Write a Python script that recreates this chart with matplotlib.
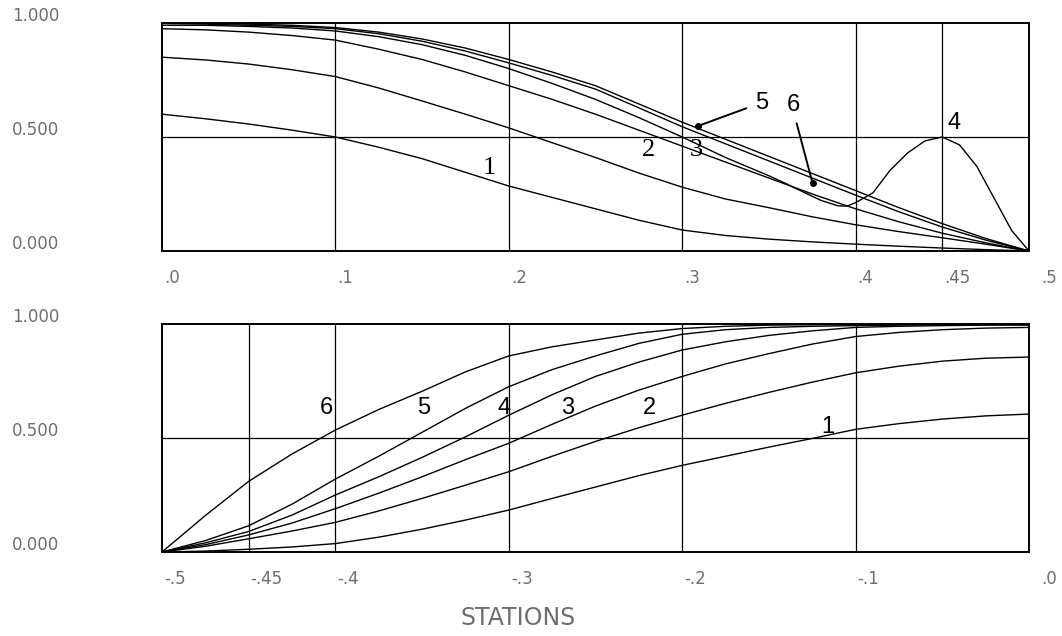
import matplotlib
matplotlib.use("Agg")
import matplotlib.pyplot as plt

# stations (top panel: right half, bottom panel: left half)
x_top = [0.0, 0.025, 0.05, 0.075, 0.10, 0.125, 0.15, 0.175, 0.20, 0.225, 0.25,
         0.275, 0.30, 0.325, 0.35, 0.375, 0.40, 0.425, 0.45, 0.475, 0.50]
x_bot = [-0.50, -0.475, -0.45, -0.425, -0.40, -0.375, -0.35, -0.325, -0.30, -0.275, -0.25,
         -0.225, -0.20, -0.175, -0.15, -0.125, -0.10, -0.075, -0.05, -0.025, 0.0]

# top panel curves, named by their level at x=.2 (lowest first)
top_1 = [0.600, 0.580, 0.557, 0.530, 0.500, 0.455, 0.405, 0.345, 0.285, 0.235, 0.185,
         0.135, 0.092, 0.068, 0.052, 0.040, 0.030, 0.021, 0.013, 0.006, 0.0]
top_2 = [0.850, 0.838, 0.820, 0.795, 0.765, 0.715, 0.658, 0.600, 0.540, 0.475, 0.410,
         0.342, 0.280, 0.228, 0.190, 0.150, 0.115, 0.085, 0.058, 0.030, 0.0]
top_3 = [0.975, 0.970, 0.960, 0.945, 0.925, 0.885, 0.840, 0.785, 0.725, 0.665, 0.600,
         0.530, 0.460, 0.390, 0.320, 0.250, 0.185, 0.128, 0.078, 0.036, 0.0]
top_5 = [0.998, 0.995, 0.990, 0.985, 0.975, 0.953, 0.920, 0.877, 0.825, 0.770, 0.710,
         0.628, 0.545, 0.470, 0.395, 0.320, 0.245, 0.172, 0.105, 0.048, 0.0]
top_6 = [1.000, 0.999, 0.995, 0.990, 0.980, 0.960, 0.930, 0.890, 0.840, 0.785, 0.725,
         0.645, 0.565, 0.490, 0.415, 0.340, 0.265, 0.190, 0.120, 0.055, 0.0]
# curve with the bump near .45
x_top_4 = [0.0, 0.025, 0.05, 0.075, 0.10, 0.125, 0.15, 0.175, 0.20, 0.225, 0.25,
           0.275, 0.30, 0.325, 0.35, 0.36, 0.37, 0.38, 0.39, 0.395, 0.40, 0.41,
           0.42, 0.43, 0.44, 0.45, 0.46, 0.47, 0.48, 0.49, 0.50]
top_4 = [0.990, 0.990, 0.985, 0.978, 0.965, 0.940, 0.905, 0.858, 0.800, 0.735, 0.665,
         0.585, 0.500, 0.410, 0.330, 0.295, 0.258, 0.222, 0.198, 0.197, 0.212, 0.255,
         0.355, 0.430, 0.483, 0.500, 0.465, 0.370, 0.230, 0.090, 0.0]

# bottom panel curves
bot_1 = [0.0, 0.004, 0.012, 0.022, 0.037, 0.065, 0.100, 0.140, 0.184, 0.235, 0.285,
         0.335, 0.380, 0.420, 0.460, 0.498, 0.538, 0.563, 0.583, 0.597, 0.605]
bot_2 = [0.0, 0.025, 0.058, 0.092, 0.130, 0.180, 0.235, 0.293, 0.352, 0.420, 0.485,
         0.545, 0.600, 0.652, 0.700, 0.745, 0.786, 0.815, 0.837, 0.850, 0.855]
bot_3 = [0.0, 0.032, 0.075, 0.127, 0.190, 0.258, 0.330, 0.405, 0.477, 0.560, 0.640,
         0.710, 0.770, 0.825, 0.870, 0.912, 0.945, 0.963, 0.975, 0.982, 0.985]
bot_4 = [0.0, 0.040, 0.090, 0.162, 0.250, 0.330, 0.415, 0.505, 0.600, 0.690, 0.770,
         0.833, 0.886, 0.922, 0.950, 0.970, 0.985, 0.990, 0.993, 0.995, 0.995]
bot_5 = [0.0, 0.050, 0.115, 0.210, 0.320, 0.420, 0.525, 0.630, 0.725, 0.800, 0.860,
         0.915, 0.955, 0.975, 0.985, 0.990, 0.993, 0.995, 0.997, 0.998, 0.998]
bot_6 = [0.0, 0.160, 0.310, 0.430, 0.535, 0.625, 0.705, 0.790, 0.860, 0.900, 0.930,
         0.960, 0.980, 0.990, 0.995, 0.997, 0.998, 0.999, 1.000, 1.000, 1.000]

top_ticks = [0.0, 0.1, 0.2, 0.3, 0.4, 0.45, 0.5]
top_ticklabels = ['.0', '.1', '.2', '.3', '.4', '.45', '.5']
bot_ticks = [-0.5, -0.45, -0.4, -0.3, -0.2, -0.1, 0.0]
bot_ticklabels = ['-.5', '-.45', '-.4', '-.3', '-.2', '-.1', '.0']
y_ticks = [0.0, 0.5, 1.0]
y_ticklabels = ['0.000', '0.500', '1.000']

W, H = 1062, 636
fig = plt.figure(figsize=(W / 100, H / 100), dpi=100)
ax_top = fig.add_axes([162 / W, 1 - 251 / H, 867 / W, 228 / H])
ax_bot = fig.add_axes([162 / W, 1 - 552 / H, 867 / W, 228 / H])

gray = '#6e6e6e'
lab_font = dict(family='DejaVu Sans', color=gray, fontsize=12)


def setup(ax, ticks, ticklabels, xlim):
    ax.set_xlim(*xlim)
    ax.set_ylim(0, 1)
    ax.set_xticks([t for t in ticks if xlim[0] < t < xlim[1]])
    ax.set_yticks([0.5])
    ax.tick_params(length=0, labelbottom=False, labelleft=False)
    ax.grid(True, color='k', lw=0.9)
    for s in ax.spines.values():
        s.set_linewidth(1.4)
    # x labels, left aligned at the station (the last one sits a bit further right)
    for t, lbl in zip(ticks, ticklabels):
        dx = 12 if t == xlim[1] else 2
        ax.annotate(lbl, xy=(t, 0), xycoords=('data', 'axes fraction'),
                    xytext=(dx, -27), textcoords='offset pixels',
                    ha='left', va='center', **lab_font)
    # y labels at the left edge of the figure
    for v, lbl in zip(y_ticks, y_ticklabels):
        ax.annotate(lbl, xy=(12 / W, v), xycoords=('figure fraction', 'data'),
                    xytext=(0, 7), textcoords='offset pixels',
                    ha='left', va='center', **lab_font)


setup(ax_top, top_ticks, top_ticklabels, (0, 0.5))
setup(ax_bot, bot_ticks, bot_ticklabels, (-0.5, 0))

lw = 1.0
for ys in [top_1, top_2, top_3, top_5, top_6]:
    ax_top.plot(x_top, ys, color='k', lw=lw)
ax_top.plot(x_top_4, top_4, color='k', lw=lw)

for ys in [bot_1, bot_2, bot_3, bot_4, bot_5, bot_6]:
    ax_bot.plot(x_bot, ys, color='k', lw=lw)

serif = dict(family='Liberation Serif', fontsize=19, ha='center', va='center')
sans = dict(family='Liberation Sans', fontsize=17, ha='center', va='center')

# curve numbers, top panel
ax_top.text(0.1886, 0.364, '1', **serif)
ax_top.text(0.2805, 0.443, '2', **serif)
ax_top.text(0.308, 0.443, '3', **serif)
ax_top.text(0.346, 0.648, '5', **sans)
ax_top.text(0.364, 0.640, '6', **sans)
ax_top.text(0.457, 0.560, '4', **sans)
ax_top.annotate('', xy=(0.309, 0.548), xytext=(0.337, 0.626),
                arrowprops=dict(arrowstyle='-', lw=1.4, color='k',
                                shrinkA=0, shrinkB=0))
ax_top.annotate('', xy=(0.3752, 0.297), xytext=(0.366, 0.56),
                arrowprops=dict(arrowstyle='-', lw=1.4, color='k',
                                shrinkA=0, shrinkB=0))
ax_top.plot([0.309, 0.3752], [0.548, 0.297], 'o', color='k', ms=4)

# curve numbers, bottom panel
ax_bot.text(-0.405, 0.63, '6', **sans)
ax_bot.text(-0.349, 0.63, '5', **sans)
ax_bot.text(-0.303, 0.63, '4', **sans)
ax_bot.text(-0.266, 0.63, '3', **sans)
ax_bot.text(-0.219, 0.63, '2', **sans)
ax_bot.text(-0.116, 0.55, '1', **sans)

fig.text(518 / W, 1 - 618 / H, 'STATIONS', ha='center', va='center',
         family='DejaVu Sans', color=gray, fontsize=17)

fig.savefig('out.png', dpi=100)
